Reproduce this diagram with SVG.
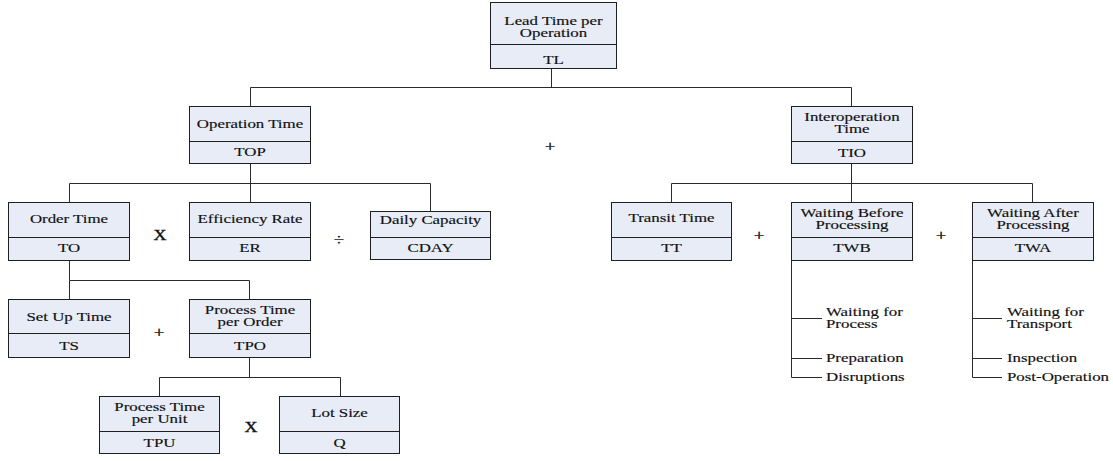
<svg xmlns="http://www.w3.org/2000/svg" width="1113" height="461" viewBox="0 0 1113 461" font-family="'Liberation Serif', 'Times New Roman', serif">
<style>
.bg{fill:#ffffff}
.box{fill:#e8ecf6;stroke:#1f1f1f;stroke-width:1}
.div{stroke:#1f1f1f;stroke-width:1}
.con line{stroke:#2a2a2a;stroke-width:1;fill:none}
text{font-family:'Liberation Serif','Times New Roman',serif;fill:#111;stroke:#111;stroke-width:0.15}
.t{font-size:12.5px;text-anchor:middle}
.l{font-size:12.5px;text-anchor:start}
.op{font-size:15px;text-anchor:middle;stroke-width:0.4}
</style>
<rect class="bg" x="0" y="0" width="1113" height="461"/>
<g id="connectors" class="con">
<line x1="551.5" y1="68" x2="551.5" y2="87.5"/>
<line x1="250.5" y1="87.5" x2="851.5" y2="87.5"/>
<line x1="250.5" y1="87.5" x2="250.5" y2="106"/>
<line x1="851.5" y1="87.5" x2="851.5" y2="106"/>
<line x1="250.5" y1="163" x2="250.5" y2="183.5"/>
<line x1="69.5" y1="183.5" x2="430.5" y2="183.5"/>
<line x1="69.5" y1="183.5" x2="69.5" y2="202"/>
<line x1="250.5" y1="183.5" x2="250.5" y2="202"/>
<line x1="430.5" y1="183.5" x2="430.5" y2="211"/>
<line x1="851.5" y1="164" x2="851.5" y2="183.5"/>
<line x1="671.5" y1="183.5" x2="1032.5" y2="183.5"/>
<line x1="671.5" y1="183.5" x2="671.5" y2="202"/>
<line x1="851.5" y1="183.5" x2="851.5" y2="202"/>
<line x1="1032.5" y1="183.5" x2="1032.5" y2="202"/>
<line x1="69.5" y1="260" x2="69.5" y2="280.5"/>
<line x1="69.5" y1="280.5" x2="249.5" y2="280.5"/>
<line x1="69.5" y1="280.5" x2="69.5" y2="299"/>
<line x1="249.5" y1="280.5" x2="249.5" y2="299"/>
<line x1="249.5" y1="357" x2="249.5" y2="377.5"/>
<line x1="159.5" y1="377.5" x2="340.5" y2="377.5"/>
<line x1="159.5" y1="377.5" x2="159.5" y2="396"/>
<line x1="340.5" y1="377.5" x2="340.5" y2="396"/>
<line x1="791.5" y1="260" x2="791.5" y2="377.5"/>
<line x1="791.5" y1="318.5" x2="822" y2="318.5"/>
<line x1="791.5" y1="358.5" x2="822" y2="358.5"/>
<line x1="791.5" y1="377.5" x2="822" y2="377.5"/>
<line x1="972.5" y1="260" x2="972.5" y2="377.5"/>
<line x1="972.5" y1="318.5" x2="1002" y2="318.5"/>
<line x1="972.5" y1="358.5" x2="1002" y2="358.5"/>
<line x1="972.5" y1="377.5" x2="1002" y2="377.5"/>
</g>
<g id="TL">
<rect class="box" x="490.5" y="2.5" width="126" height="66"/>
<line class="div" x1="490.5" y1="44.5" x2="616.5" y2="44.5"/>
<text class="t" transform="translate(553.5,25) scale(1.35,1)">Lead Time per</text>
<text class="t" transform="translate(553.5,37) scale(1.35,1)">Operation</text>
<text class="t" transform="translate(553.5,64) scale(1.35,1)">TL</text>
</g>
<g id="TOP">
<rect class="box" x="189.5" y="106.5" width="121" height="57"/>
<line class="div" x1="189.5" y1="141.5" x2="310.5" y2="141.5"/>
<text class="t" transform="translate(250,128) scale(1.35,1)">Operation Time</text>
<text class="t" transform="translate(250,156) scale(1.35,1)">TOP</text>
</g>
<g id="TIO">
<rect class="box" x="791.5" y="106.5" width="121" height="57"/>
<line class="div" x1="791.5" y1="141.5" x2="912.5" y2="141.5"/>
<text class="t" transform="translate(852,121) scale(1.35,1)">Interoperation</text>
<text class="t" transform="translate(852,133) scale(1.35,1)">Time</text>
<text class="t" transform="translate(852,157) scale(1.35,1)">TIO</text>
</g>
<g id="TO">
<rect class="box" x="8.5" y="202.5" width="121" height="58"/>
<line class="div" x1="8.5" y1="237.5" x2="129.5" y2="237.5"/>
<text class="t" transform="translate(69,223) scale(1.35,1)">Order Time</text>
<text class="t" transform="translate(69,252) scale(1.35,1)">TO</text>
</g>
<g id="ER">
<rect class="box" x="189.5" y="202.5" width="121" height="58"/>
<line class="div" x1="189.5" y1="237.5" x2="310.5" y2="237.5"/>
<text class="t" transform="translate(250,223) scale(1.35,1)">Efficiency Rate</text>
<text class="t" transform="translate(250,252) scale(1.35,1)">ER</text>
</g>
<g id="CDAY">
<rect class="box" x="370.5" y="211.5" width="120" height="48"/>
<line class="div" x1="370.5" y1="237.5" x2="490.5" y2="237.5"/>
<text class="t" transform="translate(430.5,224) scale(1.35,1)">Daily Capacity</text>
<text class="t" transform="translate(430.5,252) scale(1.35,1)">CDAY</text>
</g>
<g id="TT">
<rect class="box" x="611.5" y="202.5" width="120" height="58"/>
<line class="div" x1="611.5" y1="237.5" x2="731.5" y2="237.5"/>
<text class="t" transform="translate(671.5,222) scale(1.35,1)">Transit Time</text>
<text class="t" transform="translate(671.5,252) scale(1.35,1)">TT</text>
</g>
<g id="TWB">
<rect class="box" x="791.5" y="202.5" width="121" height="58"/>
<line class="div" x1="791.5" y1="237.5" x2="912.5" y2="237.5"/>
<text class="t" transform="translate(852,217) scale(1.35,1)">Waiting Before</text>
<text class="t" transform="translate(852,229) scale(1.35,1)">Processing</text>
<text class="t" transform="translate(852,252) scale(1.35,1)">TWB</text>
</g>
<g id="TWA">
<rect class="box" x="972.5" y="202.5" width="121" height="58"/>
<line class="div" x1="972.5" y1="237.5" x2="1093.5" y2="237.5"/>
<text class="t" transform="translate(1033,217) scale(1.35,1)">Waiting After</text>
<text class="t" transform="translate(1033,229) scale(1.35,1)">Processing</text>
<text class="t" transform="translate(1033,252) scale(1.35,1)">TWA</text>
</g>
<g id="TS">
<rect class="box" x="8.5" y="299.5" width="121" height="58"/>
<line class="div" x1="8.5" y1="333.5" x2="129.5" y2="333.5"/>
<text class="t" transform="translate(69,321) scale(1.35,1)">Set Up Time</text>
<text class="t" transform="translate(69,350) scale(1.35,1)">TS</text>
</g>
<g id="TPO">
<rect class="box" x="189.5" y="299.5" width="121" height="58"/>
<line class="div" x1="189.5" y1="333.5" x2="310.5" y2="333.5"/>
<text class="t" transform="translate(250,314) scale(1.35,1)">Process Time</text>
<text class="t" transform="translate(250,326) scale(1.35,1)">per Order</text>
<text class="t" transform="translate(250,350) scale(1.35,1)">TPO</text>
</g>
<g id="TPU">
<rect class="box" x="99.5" y="396.5" width="120" height="57"/>
<line class="div" x1="99.5" y1="431.5" x2="219.5" y2="431.5"/>
<text class="t" transform="translate(159.5,411) scale(1.35,1)">Process Time</text>
<text class="t" transform="translate(159.5,423) scale(1.35,1)">per Unit</text>
<text class="t" transform="translate(159.5,447) scale(1.35,1)">TPU</text>
</g>
<g id="Q">
<rect class="box" x="279.5" y="396.5" width="120" height="57"/>
<line class="div" x1="279.5" y1="431.5" x2="399.5" y2="431.5"/>
<text class="t" transform="translate(339.5,417) scale(1.35,1)">Lot Size</text>
<text class="t" transform="translate(339.5,447) scale(1.35,1)">Q</text>
</g>
<g id="TWB-items">
<text class="l" transform="translate(826,316) scale(1.35,1)">Waiting for</text>
<text class="l" transform="translate(826,328) scale(1.35,1)">Process</text>
<text class="l" transform="translate(826,362) scale(1.35,1)">Preparation</text>
<text class="l" transform="translate(826,381) scale(1.35,1)">Disruptions</text>
</g>
<g id="TWA-items">
<text class="l" transform="translate(1007,316) scale(1.35,1)">Waiting for</text>
<text class="l" transform="translate(1007,328) scale(1.35,1)">Transport</text>
<text class="l" transform="translate(1007,362) scale(1.35,1)">Inspection</text>
<text class="l" transform="translate(1007,381) scale(1.35,1)">Post-Operation</text>
</g>
<g id="operators">
<text class="op" transform="translate(550,151) scale(1.2,1)">+</text>
<text class="op" transform="translate(160,240) scale(1.2,1)">X</text>
<text class="op" transform="translate(339,245) scale(1.2,1)">÷</text>
<text class="op" transform="translate(759,240) scale(1.2,1)">+</text>
<text class="op" transform="translate(941,240) scale(1.2,1)">+</text>
<text class="op" transform="translate(159,337) scale(1.2,1)">+</text>
<text class="op" transform="translate(251,432) scale(1.2,1)">X</text>
</g>
</svg>
